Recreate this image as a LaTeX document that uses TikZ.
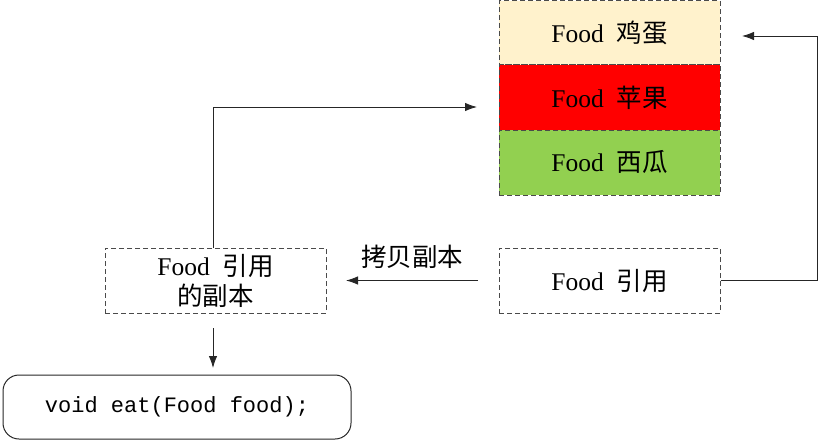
\documentclass[tikz,border=0pt]{standalone}
\usepackage{fontspec}
\setmainfont{Liberation Serif}
\setmonofont{Liberation Mono}
\newfontfamily\cjk{Noto Sans CJK SC}
\newcommand\zh[1]{{\cjk #1}}
\usetikzlibrary{arrows.meta}
\definecolor{eggc}{HTML}{FFF2CC}
\definecolor{applec}{HTML}{FF0000}
\definecolor{melonc}{HTML}{92D050}
\definecolor{dashc}{HTML}{4A4A4A}
\definecolor{linec}{HTML}{262626}
\tikzset{
  dbox/.style={draw=dashc, line width=1pt, dash pattern=on 5pt off 3pt,
    minimum width=221pt, minimum height=65pt, inner sep=0pt, align=center,
    font=\fontsize{25.5}{30}\selectfont},
  arr/.style={draw=linec, line width=0.9pt, -{Latex[length=12pt,width=8.5pt]}},
}
\begin{document}
\begin{tikzpicture}[x=1pt,y=1pt]
\useasboundingbox (0,0) rectangle (818,-441);
% stack
\node[dbox, fill=eggc, minimum height=64pt] (egg) at (609.5,-33) {Food\hspace{0.5em}\zh{鸡蛋}};
\node[dbox, fill=applec] (apple) at (609.5,-97.5) {Food\hspace{0.5em}\zh{苹果}};
\node[dbox, fill=melonc] (melon) at (609.5,-162.5) {Food\hspace{0.5em}\zh{西瓜}};
% reference
\node[dbox] (ref) at (609.5,-280.5) {Food\hspace{0.5em}\zh{引用}};
% copy
\node[dbox] (copy) at (215.5,-280.5) {Food\hspace{0.5em}\zh{引用}\\\zh{的副本}};
% function
\node[draw=linec, line width=1pt, rounded corners=16pt, minimum width=348pt,
  minimum height=64pt, inner sep=0pt, font=\fontsize{22}{26}\selectfont\ttfamily]
  (func) at (177,-407) {void eat(Food food);};
% label
\node[font=\fontsize{25.5}{30}\selectfont, inner sep=0pt] (lbl) at (412,-257) {\zh{拷贝副本}};
% coordinates
\coordinate (eggtip) at (742,-36);
\coordinate (rturn) at (817,-36);
\coordinate (cpstart) at (478,-280.5);
\coordinate (cptip) at (346,-280.5);
\coordinate (uptop) at (213,-107);
\coordinate (appletip) at (477,-107);
\coordinate (cpbottom) at (213,-248);
\coordinate (dnstart) at (213,-328);
\coordinate (dntip) at (213,-368);
% connectors
\draw[arr] (ref.east) -| (rturn) -- (eggtip);
\draw[arr] (cpstart) -- (cptip);
\draw[arr] (cpbottom) -- (uptop) -- (appletip);
\draw[arr] (dnstart) -- (dntip);
\end{tikzpicture}
\end{document}
